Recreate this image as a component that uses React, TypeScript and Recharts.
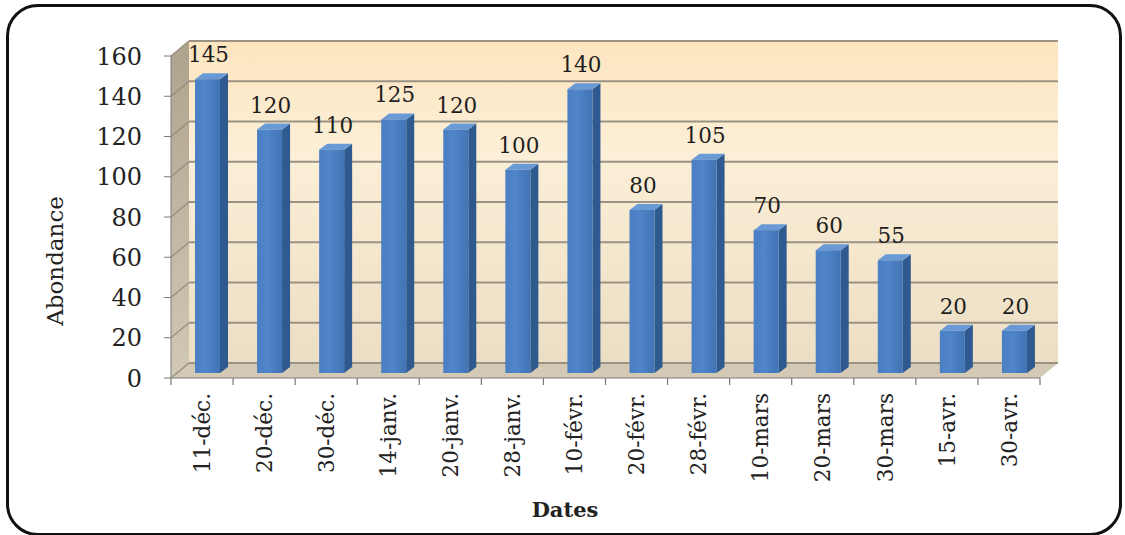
import { BarChart, Bar, XAxis, YAxis, CartesianGrid, LabelList } from 'recharts'

const dates = ['11-déc.', '20-déc.', '30-déc.', '14-janv.', '20-janv.', '28-janv.', '10-févr.', '20-févr.', '28-févr.', '10-mars', '20-mars', '30-mars', '15-avr.', '30-avr.']
const abondance = [145, 120, 110, 125, 120, 100, 140, 80, 105, 70, 60, 55, 20, 20]
const yTicks = [0, 20, 40, 60, 80, 100, 120, 140, 160]

const data = dates.map((date, i) => ({ date, abondance: abondance[i] }))

// plot box geometry (the fake 3D walls sit around it)
const W = 1125
const H = 535
const PLOT_LEFT = 171
const PLOT_RIGHT = 1040
const PLOT_BOTTOM = 378
const WALL_TOP = 41
const DX = 18
const DY = 15
const FONT = '"DejaVu Serif", "Liberation Serif", serif'

// back wall lines: the y scale's tick positions, pushed back by the box depth
const wallLines = (args: any) => {
  const yAxis = args?.yAxis
  try {
    if (yAxis && typeof yAxis.scale === 'function') {
      return yTicks.map((v) => yAxis.scale(v) - DY)
    }
  } catch (e) {
    // fall through
  }
  const top = WALL_TOP + DY
  return yTicks.map((v) => PLOT_BOTTOM - ((PLOT_BOTTOM - top) * v) / 160 - DY)
}

const Bar3D = (props: any) => {
  const { x, y, width, height } = props
  if (height == null || isNaN(height)) return null
  const fx = x + 5
  const fy = y - 7
  const fh = height + 2
  const d = 8
  const e = 6
  return (
    <g>
      <polygon
        points={`${fx + width},${fy} ${fx + width + d},${fy - e} ${fx + width + d},${fy + fh - e} ${fx + width},${fy + fh}`}
        fill="#2e5a8f"
      />
      <polygon
        points={`${fx},${fy} ${fx + d},${fy - e} ${fx + width + d},${fy - e} ${fx + width},${fy}`}
        fill="#6a9ad6"
      />
      <rect x={fx} y={fy} width={width} height={fh} fill="url(#barFront)" />
    </g>
  )
}

const renderLabel = (props: any) => {
  const vb = props.viewBox || {}
  const x = props.x ?? vb.x
  const y = props.y ?? vb.y
  const width = props.width ?? vb.width
  return (
    <text x={x + width / 2 + 6} y={y - 24} textAnchor="middle" fontSize={21.5} fill="#1f1f1f" fontFamily={FONT}>
      {props.value}
    </text>
  )
}

const YTick = (props: any) => {
  const { x, y, payload } = props
  return (
    <g>
      {/* grid line running up the side wall */}
      <line x1={PLOT_LEFT} y1={y} x2={PLOT_LEFT + DX} y2={y - DY} stroke="#948d7e" strokeWidth={1.2} />
      <text x={x} y={y} dy="0.36em" textAnchor="end" fontSize={24} fill="#222" fontFamily={FONT}>
        {payload.value}
      </text>
    </g>
  )
}

const XTick = (props: any) => {
  const { x, payload, index } = props
  const half = typeof payload?.offset === 'number' && payload.offset > 0
    ? payload.offset
    : (PLOT_RIGHT - PLOT_LEFT) / dates.length / 2
  const ty = PLOT_BOTTOM + 15
  return (
    <g>
      <line x1={x - half} y1={PLOT_BOTTOM} x2={x - half} y2={PLOT_BOTTOM + 7} stroke="#777" strokeWidth={1.2} />
      {index === dates.length - 1 && (
        <line x1={x + half} y1={PLOT_BOTTOM} x2={x + half} y2={PLOT_BOTTOM + 7} stroke="#777" strokeWidth={1.2} />
      )}
      <text
        x={x}
        y={ty}
        dy="0.36em"
        textAnchor="end"
        transform={`rotate(-90, ${x}, ${ty})`}
        fontSize={21.5}
        fill="#222"
        fontFamily={FONT}
      >
        {payload.value}
      </text>
    </g>
  )
}

export default function App() {
  const wallBottom = PLOT_BOTTOM - DY
  return (
    <div style={{ position: 'absolute', left: 0, top: 0, width: W, height: H, background: '#fff', overflow: 'hidden' }}>
      <div
        style={{
          position: 'absolute',
          left: 6,
          top: 4,
          width: 1116,
          height: 532,
          boxSizing: 'border-box',
          border: '3px solid #111',
          borderRadius: 32,
        }}
      />
      <svg width={W} height={H} style={{ position: 'absolute', left: 0, top: 0 }}>
        <defs>
          <linearGradient id="backWall" x1="0" y1="0" x2="0" y2="1">
            <stop offset="0%" stopColor="#fde5bf" />
            <stop offset="35%" stopColor="#fcefd7" />
            <stop offset="100%" stopColor="#ebdec4" />
          </linearGradient>
          <linearGradient id="sideWall" x1="0" y1="0" x2="0" y2="1">
            <stop offset="0%" stopColor="#aea38c" />
            <stop offset="100%" stopColor="#d1c8b5" />
          </linearGradient>
        </defs>
        <rect x={PLOT_LEFT + DX} y={WALL_TOP} width={PLOT_RIGHT - PLOT_LEFT} height={wallBottom - WALL_TOP} fill="url(#backWall)" />
        <polygon
          points={`${PLOT_LEFT},${WALL_TOP + DY} ${PLOT_LEFT + DX},${WALL_TOP} ${PLOT_LEFT + DX},${wallBottom} ${PLOT_LEFT},${PLOT_BOTTOM}`}
          fill="url(#sideWall)"
        />
        <polygon
          points={`${PLOT_LEFT},${PLOT_BOTTOM} ${PLOT_RIGHT},${PLOT_BOTTOM} ${PLOT_RIGHT + DX},${wallBottom} ${PLOT_LEFT + DX},${wallBottom}`}
          fill="#d3c9b4"
        />
        <text
          x={63}
          y={261}
          textAnchor="middle"
          transform="rotate(-90, 63, 261)"
          fontSize={23}
          fill="#222"
          fontFamily={FONT}
        >
          Abondance
        </text>
        <text x={565} y={517} textAnchor="middle" fontSize={21} fontWeight="bold" fill="#222" fontFamily={FONT}>
          Dates
        </text>
      </svg>
      <BarChart
        width={W}
        height={H}
        data={data}
        margin={{ top: WALL_TOP + DY, right: W - PLOT_RIGHT, bottom: 37, left: 81 }}
        style={{ position: 'absolute', left: 0, top: 0 }}
      >
        <defs>
          <linearGradient id="barFront" x1="0" y1="0" x2="1" y2="0">
            <stop offset="0%" stopColor="#4b7ec2" />
            <stop offset="40%" stopColor="#4f85ca" />
            <stop offset="100%" stopColor="#4274b4" />
          </linearGradient>
        </defs>
        <CartesianGrid
          vertical={false}
          horizontalCoordinatesGenerator={wallLines}
          x={PLOT_LEFT + DX}
          width={PLOT_RIGHT - PLOT_LEFT}
          stroke="#9a9384"
          strokeWidth={2}
        />
        <XAxis
          dataKey="date"
          interval={0}
          height={120}
          tickLine={false}
          axisLine={{ stroke: '#7a7a7a' }}
          tick={<XTick />}
        />
        <YAxis
          width={90}
          domain={[0, 160]}
          ticks={yTicks}
          tickSize={7}
          tickMargin={22}
          axisLine={{ stroke: '#7a7a7a' }}
          tickLine={{ stroke: '#7a7a7a' }}
          tick={<YTick />}
        />
        <Bar dataKey="abondance" barSize={25} shape={<Bar3D />} isAnimationActive={false}>
          <LabelList dataKey="abondance" content={renderLabel} />
        </Bar>
      </BarChart>
    </div>
  )
}
